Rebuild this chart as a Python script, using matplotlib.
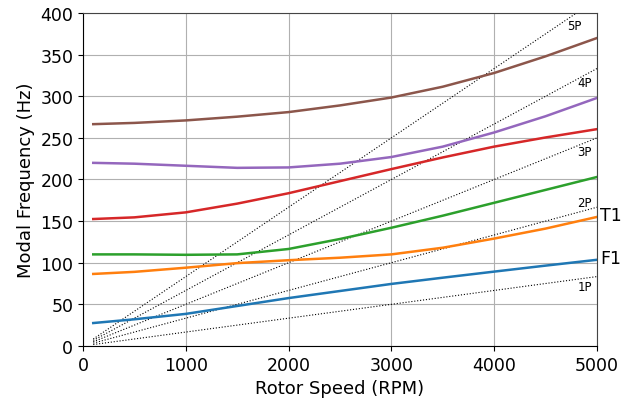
import numpy as np
import matplotlib
matplotlib.use("Agg")
import matplotlib.pyplot as plt

# rotor speed samples (RPM)
rpm = [100, 500, 1000, 1500, 2000, 2500, 3000, 3500, 4000, 4500, 5000]

# modal frequencies (Hz) per mode
mode_f1 = [27.5, 32, 38.5, 48, 57.5, 66, 74.5, 82, 89.3, 96.5, 103.5]
mode_t1 = [86.5, 89, 94, 99.5, 103, 106, 110, 118, 129, 141, 155]
mode_3 = [110, 110, 109.5, 110, 116.5, 128.5, 142, 156.5, 172, 187.5, 203]
mode_4 = [152.5, 154.5, 160.5, 171, 183.5, 198, 212.5, 226.5, 239.5, 250.5, 260.5]
mode_5 = [220, 219, 216.5, 214, 214.5, 219, 227, 239.5, 256.5, 276, 298]
mode_6 = [266.5, 268, 271, 275.5, 281, 289, 298.5, 311.5, 328, 348, 370]

modes = [mode_f1, mode_t1, mode_3, mode_4, mode_5, mode_6]
colors = ['#1f77b4', '#ff7f0e', '#2ca02c', '#d62728', '#9467bd', '#8c564b']

# per-rev excitation orders
orders = [1, 2, 3, 4, 5]
order_label_pos = [(4880, 71), (4880, 172), (4880, 234), (4880, 316), (4780, 385)]

fig = plt.figure(figsize=(6.31, 4.02), dpi=100)
ax = fig.add_axes([0.1315, 0.137, 0.8145, 0.828])

rpm_arr = np.array(rpm, dtype=float)
for n, (lx, ly) in zip(orders, order_label_pos):
    ax.plot(rpm_arr, n * rpm_arr / 60.0, color='black', linestyle=':', linewidth=0.8)
    ax.text(lx, ly, f'{n}P', fontsize=8.5, ha='center', va='center')

for vals, c in zip(modes, colors):
    ax.plot(rpm, vals, color=c, linewidth=1.8)

ax.text(5030, mode_t1[-1] + 2, 'T1', fontsize=12.5, va='center', ha='left')
ax.text(5030, mode_f1[-1] + 2, 'F1', fontsize=12.5, va='center', ha='left')

ax.set_xlim(0, 5000)
ax.set_ylim(0, 400)
ax.set_xticks(range(0, 5001, 1000))
ax.set_yticks(range(0, 401, 50))
ax.grid(True, color='#b0b0b0', linewidth=0.8)
ax.set_axisbelow(True)
ax.tick_params(labelsize=12.5)
ax.set_xlabel('Rotor Speed (RPM)', fontsize=13)
ax.set_ylabel('Modal Frequency (Hz)', fontsize=13)
for side in ['top', 'right']:
    ax.spines[side].set_color('#444444')

fig.savefig('out.png', dpi=100)
